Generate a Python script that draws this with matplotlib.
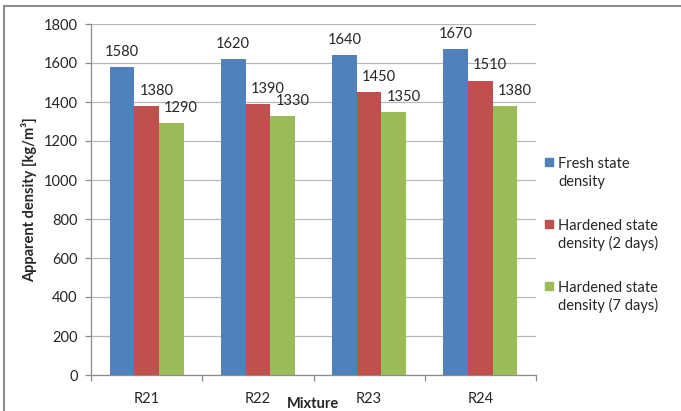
import numpy as np
import matplotlib.pyplot as plt
from matplotlib.lines import Line2D
from matplotlib.patches import Rectangle

mixtures = ["R21", "R22", "R23", "R24"]
fresh = [1580, 1620, 1640, 1670]
hardened_2d = [1380, 1390, 1450, 1510]
hardened_7d = [1290, 1330, 1350, 1380]
series_names = ["Fresh state\ndensity",
                "Hardened state\ndensity (2 days)",
                "Hardened state\ndensity (7 days)"]
colors = ["#4F81BD", "#C0504D", "#9BBB59"]

plt.rcParams["font.family"] = ["Lato", "DejaVu Sans"]
text_color = "#262626"
W, H = 681, 411

fig = plt.figure(figsize=(W / 100, H / 100), dpi=100)
ax = fig.add_axes([91 / W, 1 - 375 / H, 445 / W, 351 / H])

x = np.arange(len(mixtures))
width = 0.222
label_nudge = [0, 7, 7]  # points to the right

for i, (vals, c) in enumerate(zip([fresh, hardened_2d, hardened_7d], colors)):
    pos = x + (i - 1) * width
    bars = ax.bar(pos, vals, width, color=c, zorder=3)
    for b, v in zip(bars, vals):
        ax.annotate(str(v), (b.get_x() + b.get_width() / 2, v),
                    xytext=(label_nudge[i], 8), textcoords="offset points",
                    ha="center", va="baseline", fontsize=10.5, color=text_color)

ax.set_ylim(0, 1800)
ax.set_yticks(range(0, 1801, 200))
ax.set_xlim(-0.5, len(mixtures) - 0.5)
ax.set_xticks(x)
ax.set_xticklabels(mixtures)
ax.set_xticks(np.arange(-0.5, len(mixtures)), minor=True)

ax.grid(axis="y", color="#b8b8b8", linewidth=0.9, zorder=0)
for side in ["top", "right"]:
    ax.spines[side].set_visible(False)
for side in ["left", "bottom"]:
    ax.spines[side].set_color("#8c8c8c")
    ax.spines[side].set_linewidth(0.9)

ax.tick_params(axis="y", length=4.5, width=0.9, color="#8c8c8c", pad=5,
               labelsize=10.5, labelcolor=text_color)
ax.tick_params(axis="x", which="major", length=0, pad=12,
               labelsize=10.5, labelcolor=text_color)
ax.tick_params(axis="x", which="minor", length=4, width=0.9, color="#8c8c8c")

ax.set_ylabel("Apparent density [kg/m³]", fontsize=10.5, fontweight="bold",
              color=text_color)
ax.yaxis.set_label_coords(-0.121, 0.5)
ax.set_xlabel("Mixture", fontsize=10.5, fontweight="bold", color=text_color)
ax.xaxis.set_label_coords(0.5, -0.063)

# legend on the right: square marker next to the first line of each entry
for i, (name, c) in enumerate(zip(series_names, colors)):
    base = 168 + 62 * i
    fig.add_artist(Rectangle((545 / W, 1 - (base - 2) / H), 8 / W, 8 / H,
                             transform=fig.transFigure, color=c))
    for j, line in enumerate(name.split("\n")):
        fig.text(558 / W, 1 - (base + 18 * j) / H, line, fontsize=10.5,
                 color=text_color, va="baseline", ha="left")

# outer chart border
fig.add_artist(Line2D([4 / W, 1], [1 - 6 / H] * 2, transform=fig.transFigure,
                      color="#8c8c8c", linewidth=1.5))
fig.add_artist(Line2D([4 / W] * 2, [0, 1 - 6 / H], transform=fig.transFigure,
                      color="#8c8c8c", linewidth=1.5))

fig.savefig("out.png", dpi=100)
